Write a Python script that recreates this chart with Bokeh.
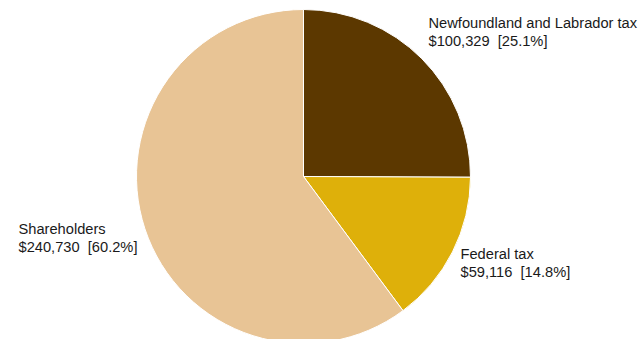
import math
from bokeh.plotting import figure
from bokeh.models import Range1d, ColumnDataSource
from bokeh.core.properties import value
from bokeh.embed import file_html
from bokeh.resources import INLINE

# ---- data ----
categories = ["Newfoundland and Labrador tax", "Federal tax", "Shareholders"]
amounts = [100329, 59116, 240730]
colors = ["#5C3800", "#DEB00A", "#E8C495"]

W, H = 642, 339
p = figure(width=W, height=H, x_range=Range1d(0, W), y_range=Range1d(0, H),
           output_backend="svg", toolbar_location=None, min_border=0)
p.axis.visible = False
p.grid.visible = False
p.outline_line_color = None
p.background_fill_color = "white"

cx, cy, r = 303, H - 176, 167
total = sum(amounts)
starts, ends, pct = [], [], []
acc = 0.0
for a in amounts:
    frac = a / total
    starts.append(math.pi / 2 - 2 * math.pi * acc)
    acc += frac
    ends.append(math.pi / 2 - 2 * math.pi * acc)
    pct.append(frac * 100)

src = ColumnDataSource(dict(start=starts, end=ends, color=colors))
p.wedge(x=cx, y=cy, radius=r, start_angle="end", end_angle="start",
        fill_color="color", line_color="white", line_width=1, source=src)

labels = [f"{c}\n${a:,}\u00a0\u00a0[{q:.1f}%]" for c, a, q in zip(categories, amounts, pct)]
# label anchors (left, top) in pixels from top-left
lx = [428, 460, 18]
ly = [14, 245, 220]
lsrc = ColumnDataSource(dict(x=lx, y=[H - v for v in ly], t=labels))
p.text(x="x", y="y", text="t", source=lsrc, text_font=value("Liberation Sans"),
       text_font_size="14.67px", text_color="#1a1a1a", text_align="left",
       text_baseline="top", text_line_height=1.15)

open("out.html", "w").write(file_html(p, INLINE))
